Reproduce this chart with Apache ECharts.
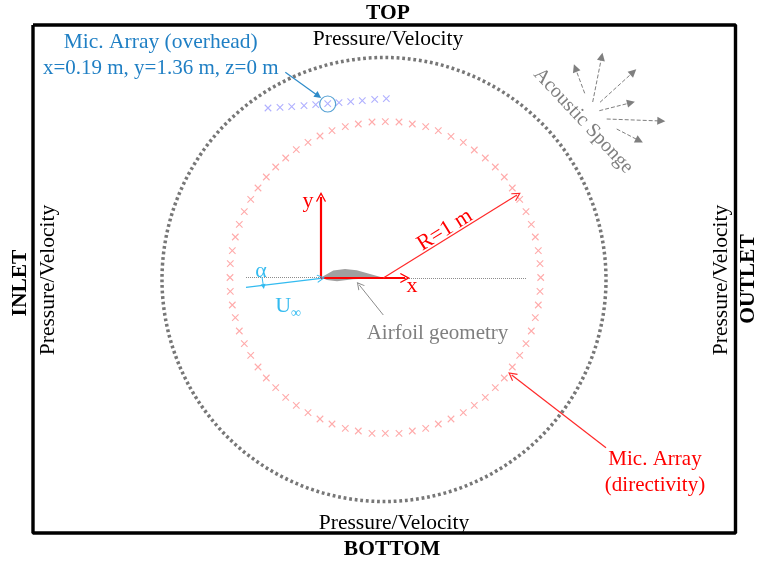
<!DOCTYPE html>
<html>
<head>
<meta charset="utf-8">
<title>Domain sketch</title>
<style>html,body{margin:0;padding:0;background:#fff}#chart{width:757px;height:563px}</style>
<script src="https://cdn.jsdelivr.net/npm/echarts@6/dist/echarts.min.js"></script>
</head>
<body>
<div id="chart"></div>
<script>
// all values, axes run in picture units (y downwards)
const ringX = [230,230.3,232.3,235.3,239.3,244.3,250.7,258,266.3,275.7,285.7,296.3,308,320,332,345.3,358.3,372,385.3,399,412.3,425.7,438.3,451,463.3,474.3,485.3,495.3,504.3,512.3,519.7,526,531.3,535.3,538.3,540,540.7,540,538.3,535.3,531.3,526,519.7,512.3,504.3,495.3,485.3,474.3,463.3,451,438.3,425.7,412.3,399,385.3,372,358.3,345.3,332,320,308,296.3,285.7,275.7,266.3,258,250.7,244.3,239.3,235.3,232.3,230.3]
const ringY = [277.5,263.7,250.7,237,224.3,211.7,199.3,188,177,167,158,149.7,142.3,136,130.7,126.7,124,122,121.7,122,124,126.7,130.7,136.3,142.3,150,158,167,177,188,199.3,211.7,224.3,237,250.7,263.7,277.5,291.3,305,317.7,331,343.7,355.3,367,378,387.7,397.3,405.3,412.7,419,424,428.3,431,433.3,433.3,433.3,431,428.3,424,419,412.7,405.3,397.3,387.7,378,367,355.3,343.7,331,317.7,305,291.3]
const overheadX = [268,280,291.7,304,315.7,327.7,339,350.7,362.3,374.7,386.3]
const overheadY = [108,107.3,106.7,105.7,104.7,103.7,102.7,101.7,100.7,99.3,98.7]
const pickedMic = [327.7, 104]

const frameX = [33,735.5,735.5,33,33]
const frameY = [25,25,533,533,25]
const sponge = [384, 279.5, 222]  // cx, cy, r

const airfoilX = [321,333.3,345,356.7,370,383.3,370,353,337,327]
const airfoilY = [277.5,270.5,269,270.3,274,277.7,278.5,279.3,281.3,280]

const axisArrows = [[321,278,321,197],[321,278,405,278]]
const radiusArrow = [[383.3,278,517,195]]
const directivityArrow = [[606,447.7,511.7,375]]
const overheadArrow = [[285.3,72.3,318.3,96]]
const flowArrow = [[246,287.3,321,278.3]]
const alphaArrow = [[262,277,263.5,286.5]]
const airfoilArrow = [[383.3,315,359.3,285]]
const spongeArrows = [
  [584.7,93.3,575.3,68],[592.7,102,601.7,56.7],[600,102.3,633.3,72],
  [599.3,110.7,631,102.7],[606.7,119,661.3,121],[616.7,129,639.3,140.7]
]
const chordLines = [[246,277.7,321,277.7],[405,278,526.7,278]]

const serif = '"Liberation Serif","Times New Roman",serif'
const labels = [
  // text, x, y, rotate, color, size, bold
  ['TOP',388,13,0,'#000',21.5,1],
  ['BOTTOM',392,549,0,'#000',21.5,1],
  ['INLET',20,283,90,'#000',21.5,1],
  ['OUTLET',748,279,90,'#000',21.5,1],
  ['Pressure/Velocity',388,39,0,'#000',21.5,0],
  ['Pressure/Velocity',394,523,0,'#000',21.5,0],
  ['Pressure/Velocity',48,280,90,'#000',21.5,0],
  ['Pressure/Velocity',721,280,90,'#000',21.5,0],
  ['Mic. Array (overhead)',160.7,42,0,'#1F7FC4',21.5,0],
  ['x=0.19 m, y=1.36 m, z=0 m',160.7,68,0,'#1F7FC4',21,0],
  ['Acoustic Sponge',583.3,121,-47,'#7F7F7F',20,0],
  ['y',308,201.7,0,'#FF0000',22,0],
  ['x',412,286,0,'#FF0000',22,0],
  ['R=1 m',445,230,32,'#FF0000',22,0],
  ['\u03b1',261,271.7,0,'#33BBF0',22,0],
  ['U',283.3,306,0,'#33BBF0',22,0],
  ['\u221e',296,313.3,0,'#33BBF0',14,0],
  ['Airfoil geometry',437.5,333,0,'#7F7F7F',21,0],
  ['Mic. Array',655,459.3,0,'#FF0000',21,0],
  ['(directivity)',655,485,0,'#FF0000',21,0]
]

const CROSS = 'path://M0 0L10 10M10 0L0 10'
const OPEN_HEAD = 'path://M0 10L5 0L10 10L9 10.7L5 3L1 10.7Z'
const SOLID_HEAD = 'path://M0 10L5 0L10 10Z'

const pairs = (xs, ys) => xs.map((x, i) => [x, ys[i]])
const arrowSeries = (segs, color, width, head, size, type) => ({
  type: 'lines',
  coordinateSystem: 'cartesian2d',
  silent: true,
  z: 4,
  symbol: ['none', head],
  symbolSize: size,
  lineStyle: {color, width, opacity: 1, type: type || 'solid', curveness: 0},
  data: segs.map(s => ({coords: [[s[0], s[1]], [s[2], s[3]]]}))
})
const crossSeries = (data, color) => ({
  type: 'scatter',
  silent: true,
  symbol: CROSS,
  symbolSize: 6.5,
  z: 3,
  itemStyle: {color: 'none', borderColor: color, borderWidth: 1.1, opacity: 1},
  data
})

const myChart = echarts.init(document.getElementById('chart'), null, {renderer: 'canvas'})
myChart.setOption({
  animation: false,
  backgroundColor: '#fff',
  grid: {left: 0, right: 0, top: 0, bottom: 0},
  xAxis: {type: 'value', min: 0, max: 757, show: false},
  yAxis: {type: 'value', min: 0, max: 563, inverse: true, show: false},
  series: [
    {
      type: 'line',
      silent: true,
      symbol: 'none',
      z: 1,
      lineStyle: {color: '#000', width: 3.4},
      data: pairs(frameX, frameY)
    },
    {
      type: 'custom',
      silent: true,
      z: 2,
      data: [sponge],
      renderItem: (params, api) => {
        const c = api.coord([api.value(0), api.value(1)])
        return {
          type: 'circle',
          shape: {cx: c[0], cy: c[1], r: api.size([api.value(2), 0])[0]},
          style: {fill: 'none', stroke: '#777', lineWidth: 3.5, lineDash: [2.8, 2.8]}
        }
      }
    },
    {
      type: 'custom',
      silent: true,
      z: 2,
      data: [0],
      renderItem: (params, api) => ({
        type: 'polygon',
        shape: {points: pairs(airfoilX, airfoilY).map(p => api.coord(p))},
        style: {fill: '#A0A0A0'}
      })
    },
    crossSeries(pairs(ringX, ringY), '#FFABAB'),
    crossSeries(pairs(overheadX, overheadY), '#B0B0FF'),
    {
      type: 'scatter',
      silent: true,
      symbol: 'circle',
      symbolSize: 16,
      z: 3,
      itemStyle: {color: 'none', borderColor: '#2E8BC9', borderWidth: 1.2},
      data: [pickedMic]
    },
    arrowSeries(chordLines, '#8C8C8C', 1, 'none', 1, 'dotted'),
    arrowSeries(axisArrows, '#FF0000', 2.2, OPEN_HEAD, [11, 10]),
    arrowSeries(radiusArrow, '#FF2A2A', 1.2, OPEN_HEAD, [10, 9]),
    arrowSeries(directivityArrow, '#FF2A2A', 1.2, OPEN_HEAD, [10, 9]),
    arrowSeries(overheadArrow, '#2E8BC9', 1.2, SOLID_HEAD, [7, 7]),
    arrowSeries(flowArrow, '#33BBF0', 1.3, OPEN_HEAD, [9, 8]),
    arrowSeries(alphaArrow, '#33BBF0', 1, SOLID_HEAD, [5, 5]),
    arrowSeries(airfoilArrow, '#8C8C8C', 1, OPEN_HEAD, [8, 8]),
    arrowSeries(spongeArrows, '#7F7F7F', 1, SOLID_HEAD, [8, 8], 'dashed'),
    {
      type: 'custom',
      silent: true,
      z: 5,
      data: labels.map(l => [l[1], l[2]]),
      renderItem: (params, api) => {
        const l = labels[params.dataIndex]
        const c = api.coord([api.value(0), api.value(1)])
        return {
          type: 'text',
          x: c[0],
          y: c[1],
          rotation: l[3] * Math.PI / 180,
          style: {
            text: l[0],
            fill: l[4],
            font: (l[6] ? 'bold ' : '') + l[5] + 'px ' + serif,
            align: 'center',
            verticalAlign: 'middle'
          }
        }
      }
    }
  ]
})
</script>
</body>
</html>
